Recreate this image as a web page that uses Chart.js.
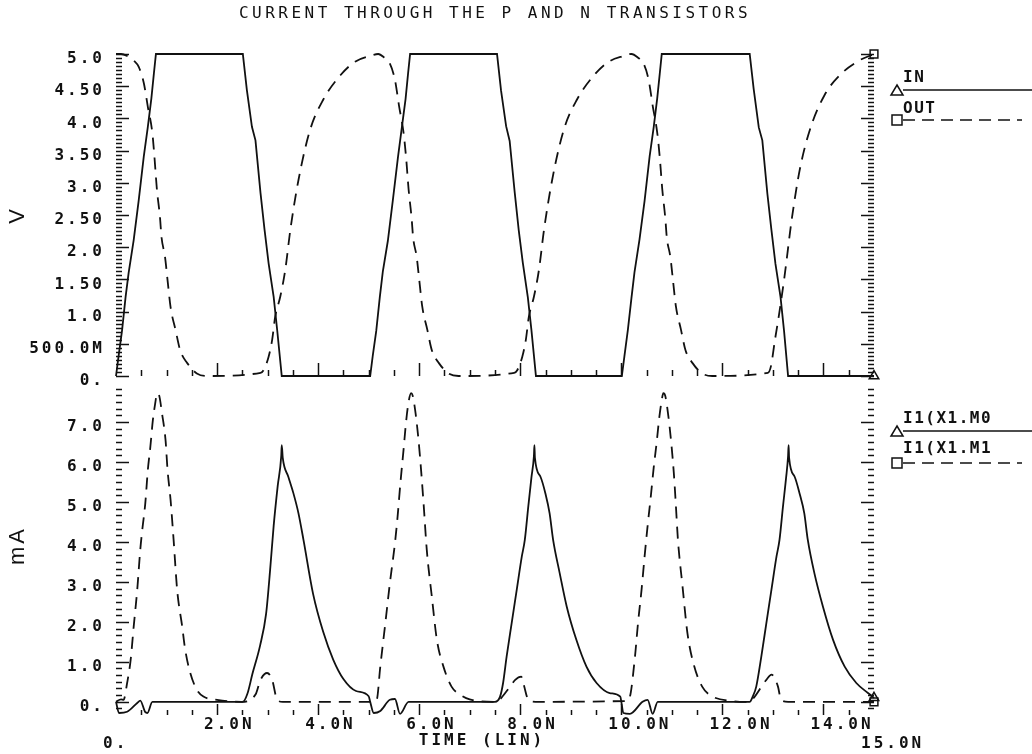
<!DOCTYPE html>
<html>
<head>
<meta charset="utf-8">
<script src="https://cdn.jsdelivr.net/npm/chart.js@4.4.1/dist/chart.umd.min.js"></script>
<style>
  html, body { margin: 0; padding: 0; background: #fff; }
</style>
</head>
<body>
<canvas id="plot" width="1032" height="754"></canvas>
<script>
// values (time in ns, volts, mA)
const timeIn = [0, 0.05, 0.12, 0.19, 0.25, 0.35, 0.45, 0.55, 0.63, 0.70, 0.75, 0.79,
  2.51, 2.59, 2.69, 2.76, 2.86, 2.94, 3.02, 3.12, 3.19, 3.28,
  5.03, 5.08, 5.15, 5.22, 5.28, 5.38, 5.48, 5.58, 5.66, 5.73, 5.78, 5.82,
  7.54, 7.62, 7.72, 7.79, 7.89, 7.97, 8.05, 8.15, 8.22, 8.31,
  10.01, 10.06, 10.13, 10.20, 10.26, 10.36, 10.46, 10.56, 10.64, 10.71, 10.76, 10.80,
  12.54, 12.62, 12.72, 12.79, 12.89, 12.97, 13.05, 13.15, 13.22, 13.30, 15.0];
const voltIn = [0, 0.30, 0.71, 1.23, 1.60, 2.11, 2.73, 3.41, 3.87, 4.31, 4.70, 5.0,
  5.0, 4.44, 3.87, 3.66, 2.84, 2.27, 1.75, 1.23, 0.71, 0,
  0, 0.31, 0.70, 1.22, 1.62, 2.10, 2.74, 3.40, 3.88, 4.30, 4.70, 5.0,
  5.0, 4.43, 3.88, 3.65, 2.85, 2.26, 1.76, 1.22, 0.72, 0,
  0, 0.30, 0.72, 1.21, 1.61, 2.12, 2.72, 3.41, 3.86, 4.31, 4.69, 5.0,
  5.0, 4.45, 3.86, 3.66, 2.83, 2.27, 1.74, 1.23, 0.70, 0, 0];

const timeOut = [0, 0.10, 0.22, 0.35, 0.45, 0.55, 0.63, 0.72, 0.76, 0.81, 0.87, 0.90, 0.97, 1.02, 1.08, 1.18, 1.27, 1.41, 1.60, 1.80,
  2.86, 2.92, 3.02, 3.09, 3.15, 3.25, 3.35, 3.45, 3.61, 3.84, 4.10, 4.44, 4.73, 5.03, 5.19,
  5.30, 5.42, 5.52, 5.60, 5.69, 5.74, 5.79, 5.85, 5.88, 5.95, 6.00, 6.06, 6.16, 6.25, 6.39, 6.58, 6.78,
  7.88, 7.94, 8.04, 8.11, 8.17, 8.27, 8.37, 8.47, 8.63, 8.86, 9.12, 9.46, 9.75, 10.05, 10.20,
  10.32, 10.44, 10.54, 10.62, 10.71, 10.76, 10.81, 10.87, 10.90, 10.97, 11.02, 11.08, 11.18, 11.27, 11.41, 11.60, 11.80,
  12.90, 12.96, 13.04, 13.12, 13.23, 13.37, 13.53, 13.73, 14.02, 14.32, 14.71, 15.0];
const voltOut = [5.0, 5.0, 4.97, 4.90, 4.80, 4.55, 4.18, 3.77, 3.41, 2.89, 2.47, 2.16, 1.85, 1.49, 1.07, 0.71, 0.40, 0.20, 0.04, 0.0,
  0.05, 0.09, 0.30, 0.56, 0.92, 1.23, 1.65, 2.27, 3.04, 3.82, 4.29, 4.67, 4.88, 4.97, 5.0,
  4.95, 4.85, 4.60, 4.20, 3.78, 3.40, 2.90, 2.45, 2.15, 1.85, 1.50, 1.08, 0.72, 0.40, 0.20, 0.04, 0.0,
  0.05, 0.09, 0.30, 0.56, 0.92, 1.23, 1.65, 2.27, 3.04, 3.82, 4.29, 4.67, 4.88, 4.97, 5.0,
  4.95, 4.85, 4.60, 4.20, 3.78, 3.40, 2.90, 2.45, 2.15, 1.85, 1.50, 1.08, 0.72, 0.40, 0.20, 0.04, 0.0,
  0.05, 0.15, 0.56, 0.95, 1.55, 2.42, 3.20, 3.82, 4.36, 4.67, 4.90, 5.0];

const timeM0 = [0, 0.06, 0.22, 0.42, 0.48, 0.58, 0.62, 0.72, 2.51, 2.60, 2.70, 2.85, 2.97, 3.05, 3.12, 3.20, 3.27, 3.28, 3.30, 3.41, 3.51, 3.61, 3.71, 3.90, 4.10, 4.30, 4.50, 4.75, 5.00,
  5.03, 5.10, 5.23, 5.42, 5.52, 5.62, 5.79, 7.50, 7.60, 7.66, 7.73, 7.83, 7.93, 8.03, 8.09, 8.16, 8.22, 8.27, 8.28, 8.29, 8.40, 8.50, 8.58, 8.65, 8.78, 8.92, 9.11, 9.31, 9.51, 9.77, 9.98,
  10.00, 10.04, 10.17, 10.42, 10.52, 10.62, 10.72, 12.54, 12.60, 12.67, 12.77, 12.87, 12.97, 13.07, 13.13, 13.20, 13.26, 13.30, 13.31, 13.32, 13.43, 13.53, 13.62, 13.69, 13.82, 13.99, 14.19, 14.42, 14.65, 14.88, 15.0];
const currM0 = [0, -0.28, -0.25, -0.03, 0.03, -0.26, -0.28, 0, 0, 0.20, 0.70, 1.40, 2.20, 3.30, 4.40, 5.40, 6.15, 6.42, 6.10, 5.63, 5.22, 4.72, 4.05, 2.70, 1.75, 1.05, 0.57, 0.27, 0.14,
  0, -0.28, -0.23, 0.05, 0.07, -0.30, 0, 0, 0.13, 0.47, 1.13, 1.97, 2.80, 3.63, 4.05, 4.90, 5.60, 6.15, 6.42, 6.10, 5.63, 5.20, 4.72, 4.05, 3.22, 2.38, 1.55, 0.88, 0.47, 0.22, 0.13,
  0, -0.28, -0.30, 0, 0.05, -0.30, 0, 0, 0.13, 0.38, 1.13, 1.97, 2.80, 3.63, 4.05, 4.90, 5.60, 6.15, 6.42, 6.10, 5.63, 5.20, 4.72, 4.05, 3.22, 2.38, 1.55, 0.88, 0.47, 0.22, 0.10];

const timeM1 = [0, 0.10, 0.15, 0.22, 0.29, 0.35, 0.42, 0.48, 0.52, 0.58, 0.63, 0.68, 0.73, 0.78, 0.81, 0.85, 0.91, 0.98, 1.02, 1.08, 1.14, 1.21, 1.31, 1.37, 1.47, 1.60, 1.73, 2.00, 2.48, 2.76, 2.86, 2.99, 3.09, 3.19, 3.30,
  5.10, 5.16, 5.23, 5.33, 5.42, 5.52, 5.57, 5.63, 5.69, 5.74, 5.79, 5.84, 5.87, 5.93, 5.99, 6.04, 6.09, 6.15, 6.25, 6.35, 6.48, 6.64, 6.81, 7.00, 7.50, 7.80, 7.90, 8.02, 8.07, 8.16, 8.30,
  10.10, 10.17, 10.27, 10.33, 10.40, 10.46, 10.52, 10.58, 10.64, 10.70, 10.75, 10.80, 10.83, 10.87, 10.93, 10.99, 11.04, 11.08, 11.12, 11.21, 11.31, 11.44, 11.60, 11.78, 12.20, 12.50, 12.87, 12.97, 13.10, 13.16, 13.30, 15.0];
const currM1 = [0, 0.06, 0.05, 0.47, 1.05, 1.88, 2.80, 3.80, 4.30, 4.97, 5.80, 6.38, 7.05, 7.50, 7.72, 7.68, 7.22, 6.55, 5.80, 5.05, 4.05, 2.80, 1.88, 1.30, 0.72, 0.30, 0.13, 0.05, 0, 0.18, 0.55, 0.72, 0.55, 0.05, 0,
  0, 0.05, 0.88, 1.97, 2.97, 3.97, 4.60, 5.50, 6.30, 7.00, 7.50, 7.72, 7.66, 7.20, 6.50, 5.75, 4.90, 3.80, 2.63, 1.55, 0.88, 0.38, 0.18, 0.06, 0, 0.38, 0.55, 0.63, 0.42, 0.05, 0,
  0.02, 0.13, 1.13, 1.97, 2.80, 3.63, 4.40, 5.10, 5.85, 6.50, 7.10, 7.55, 7.72, 7.65, 7.15, 6.45, 5.70, 4.90, 4.05, 2.90, 1.70, 0.90, 0.38, 0.15, 0.02, 0, 0.55, 0.68, 0.38, 0.05, 0, 0];

const seriesNames = ['IN', 'OUT', 'I1(X1.M0', 'I1(X1.M1'];

const vTickValues = [0, 0.5, 1, 1.5, 2, 2.5, 3, 3.5, 4, 4.5, 5];
const vTickLabels = ['0.', '500.0M', '1.0', '1.50', '2.0', '2.50', '3.0', '3.50', '4.0', '4.50', '5.0'];
const iTickValues = [0, 1, 2, 3, 4, 5, 6, 7];
const iTickLabels = ['0.', '1.0', '2.0', '3.0', '4.0', '5.0', '6.0', '7.0'];
const timeTickValues = [0, 2, 4, 6, 8, 10, 12, 14, 15];
const timeTickLabels = [['', '0.'], '2.0N', '4.0N', '6.0N', '8.0N', '10.0N', '12.0N', '14.0N', ['', '15.0N']];

const ink = '#111';
const mono = '"DejaVu Sans Mono", "Liberation Mono", monospace';

function pts(ts, vs) {
  return ts.map((t, i) => ({ x: t, y: vs[i] }));
}

// marker only on the last point of each trace
const lastOnly = (c) => (c.dataIndex === c.dataset.data.length - 1 ? 5.5 : 0);

function drawMarker(ctx, style, x, y) {
  ctx.beginPath();
  if (style === 'triangle') {
    ctx.moveTo(x, y - 6);
    ctx.lineTo(x + 6, y + 4);
    ctx.lineTo(x - 6, y + 4);
    ctx.closePath();
  } else {
    ctx.rect(x - 5, y - 5, 10, 10);
  }
  ctx.stroke();
}

const plotterPlugin = {
  id: 'plotter',
  beforeDraw(chart) {
    chart.ctx.letterSpacing = '3px';
  },
  afterDraw(chart) {
    const { ctx, chartArea: a, scales } = chart;
    ctx.save();
    ctx.strokeStyle = ink;
    ctx.fillStyle = ink;
    ctx.lineWidth = 1.5;
    ctx.setLineDash([]);

    const seg = (x1, y1, x2, y2) => {
      ctx.beginPath();
      ctx.moveTo(x1, y1);
      ctx.lineTo(x2, y2);
      ctx.stroke();
    };

    // ladder ticks on both vertical edges
    const ladders = [
      { s: scales.yV, from: 0, to: 80, per: 16, every: 8 },   // 1/16 V steps, major every 0.5 V
      { s: scales.yI, from: -1, to: 47, per: 6, every: 6 }    // 1/6 mA steps, major every 1 mA
    ];
    for (const l of ladders) {
      for (let i = l.from; i <= l.to; i++) {
        const major = i % l.every === 0;
        const py = Math.round(l.s.getPixelForValue(i / l.per)) + 0.5;
        const len = major ? 13 : 6;
        seg(a.left, py, a.left + len, py);
        seg(a.right - len, py, a.right, py);
      }
    }

    // time ticks along the bottom of each panel
    const bases = [
      { y: Math.round(scales.yV.getPixelForValue(0)), minor: 6, major: 13 },
      { y: Math.round(a.bottom), minor: 5, major: 11 }
    ];
    for (const b of bases) {
      for (let i = 1; i < 30; i++) {
        const px = Math.round(scales.x.getPixelForValue(i / 2)) + 0.5;
        const len = i % 4 === 0 ? b.major : b.minor;
        seg(px, b.y, px, b.y - len);
      }
    }

    // title and time axis caption
    ctx.textBaseline = 'middle';
    ctx.textAlign = 'center';
    ctx.letterSpacing = '3.5px';
    ctx.font = '16px ' + mono;
    ctx.fillText('CURRENT THROUGH THE P AND N TRANSISTORS', 495, 14);
    ctx.letterSpacing = '3px';
    ctx.font = 'bold 16px ' + mono;
    ctx.fillText('TIME (LIN)', 482, 741);

    // legend at the right
    const entries = [
      { name: seriesNames[0], style: 'triangle', dash: [], ty: 78, my: 91, ly: 90, end: 1032 },
      { name: seriesNames[1], style: 'rect', dash: [12, 7], ty: 109, my: 120, ly: 120, end: 1022 },
      { name: seriesNames[2], style: 'triangle', dash: [], ty: 419, my: 432, ly: 431, end: 1032 },
      { name: seriesNames[3], style: 'rect', dash: [12, 7], ty: 449, my: 463, ly: 463, end: 1022 }
    ];
    ctx.textAlign = 'left';
    ctx.letterSpacing = '1.5px';
    for (const e of entries) {
      ctx.setLineDash([]);
      drawMarker(ctx, e.style, 897, e.my);
      ctx.setLineDash(e.dash);
      seg(903, e.ly, e.end, e.ly);
      ctx.fillText(e.name, 903, e.ty);
    }
    ctx.restore();
  }
};

const tickFont = { family: mono, size: 16, weight: 'bold', lineHeight: 1.19 };
const titleFont = { family: '"Liberation Sans", Arial, sans-serif', size: 22 };

new Chart(document.getElementById('plot'), {
  type: 'line',
  data: {
    datasets: [
      {
        label: seriesNames[0], data: pts(timeIn, voltIn), yAxisID: 'yV',
        borderColor: ink, borderWidth: 1.8, tension: 0,
        pointStyle: 'triangle', pointRadius: lastOnly, pointBorderColor: ink,
        pointBackgroundColor: 'rgba(0,0,0,0)', pointBorderWidth: 1.5, clip: false
      },
      {
        label: seriesNames[1], data: pts(timeOut, voltOut), yAxisID: 'yV',
        borderColor: ink, borderWidth: 1.8, borderDash: [12, 8], cubicInterpolationMode: 'monotone',
        pointStyle: 'rect', pointRadius: lastOnly, pointBorderColor: ink,
        pointBackgroundColor: 'rgba(0,0,0,0)', pointBorderWidth: 1.5, clip: false
      },
      {
        label: seriesNames[2], data: pts(timeM0, currM0), yAxisID: 'yI',
        borderColor: ink, borderWidth: 1.8, cubicInterpolationMode: 'monotone',
        pointStyle: 'triangle', pointRadius: lastOnly, pointBorderColor: ink,
        pointBackgroundColor: 'rgba(0,0,0,0)', pointBorderWidth: 1.5, clip: false
      },
      {
        label: seriesNames[3], data: pts(timeM1, currM1), yAxisID: 'yI',
        borderColor: ink, borderWidth: 1.8, borderDash: [12, 8], cubicInterpolationMode: 'monotone',
        pointStyle: 'rect', pointRadius: lastOnly, pointBorderColor: ink,
        pointBackgroundColor: 'rgba(0,0,0,0)', pointBorderWidth: 1.5, clip: false
      }
    ]
  },
  options: {
    responsive: false,
    animation: false,
    layout: { padding: { top: 54, right: 158, left: 0, bottom: 0 } },
    plugins: {
      legend: { display: false },
      tooltip: { enabled: false },
      title: { display: false }
    },
    scales: {
      x: {
        type: 'linear', min: 0, max: 15,
        afterBuildTicks: (s) => { s.ticks = timeTickValues.map((v) => ({ value: v })); },
        afterFit: (s) => { s.height = 39; },
        grid: { display: false, drawTicks: false },
        border: { display: false },
        ticks: {
          autoSkip: false, maxRotation: 0, align: 'start', labelOffset: -13, padding: 0,
          color: ink, font: tickFont,
          callback: (v, i) => timeTickLabels[i]
        }
      },
      // left boxes are laid out in reverse, so the lower panel is listed first
      yI: {
        type: 'linear', position: 'left', stack: 'panels', stackWeight: 339,
        min: -0.33, max: 8.15,
        afterBuildTicks: (s) => { s.ticks = iTickValues.map((v) => ({ value: v })); },
        afterFit: (s) => { s.width = 116; },
        grid: { display: false, drawTicks: false },
        border: { display: false },
        ticks: {
          autoSkip: false, color: ink, font: tickFont, padding: 11, labelOffset: 5,
          callback: (v, i) => iTickLabels[i]
        },
        title: { display: true, text: 'mA', color: ink, font: titleFont, padding: { top: 5, bottom: 0 } }
      },
      yV: {
        type: 'linear', position: 'left', stack: 'panels', stackWeight: 322,
        min: 0, max: 5,
        afterBuildTicks: (s) => { s.ticks = vTickValues.map((v) => ({ value: v })); },
        afterFit: (s) => { s.width = 116; },
        grid: { display: false, drawTicks: false },
        border: { display: false },
        ticks: {
          autoSkip: false, color: ink, font: tickFont, padding: 11, labelOffset: 5,
          callback: (v, i) => vTickLabels[i]
        },
        title: { display: true, text: 'V', color: ink, font: titleFont, padding: { top: 5, bottom: 0 } }
      }
    }
  },
  plugins: [plotterPlugin]
});
</script>
</body>
</html>
